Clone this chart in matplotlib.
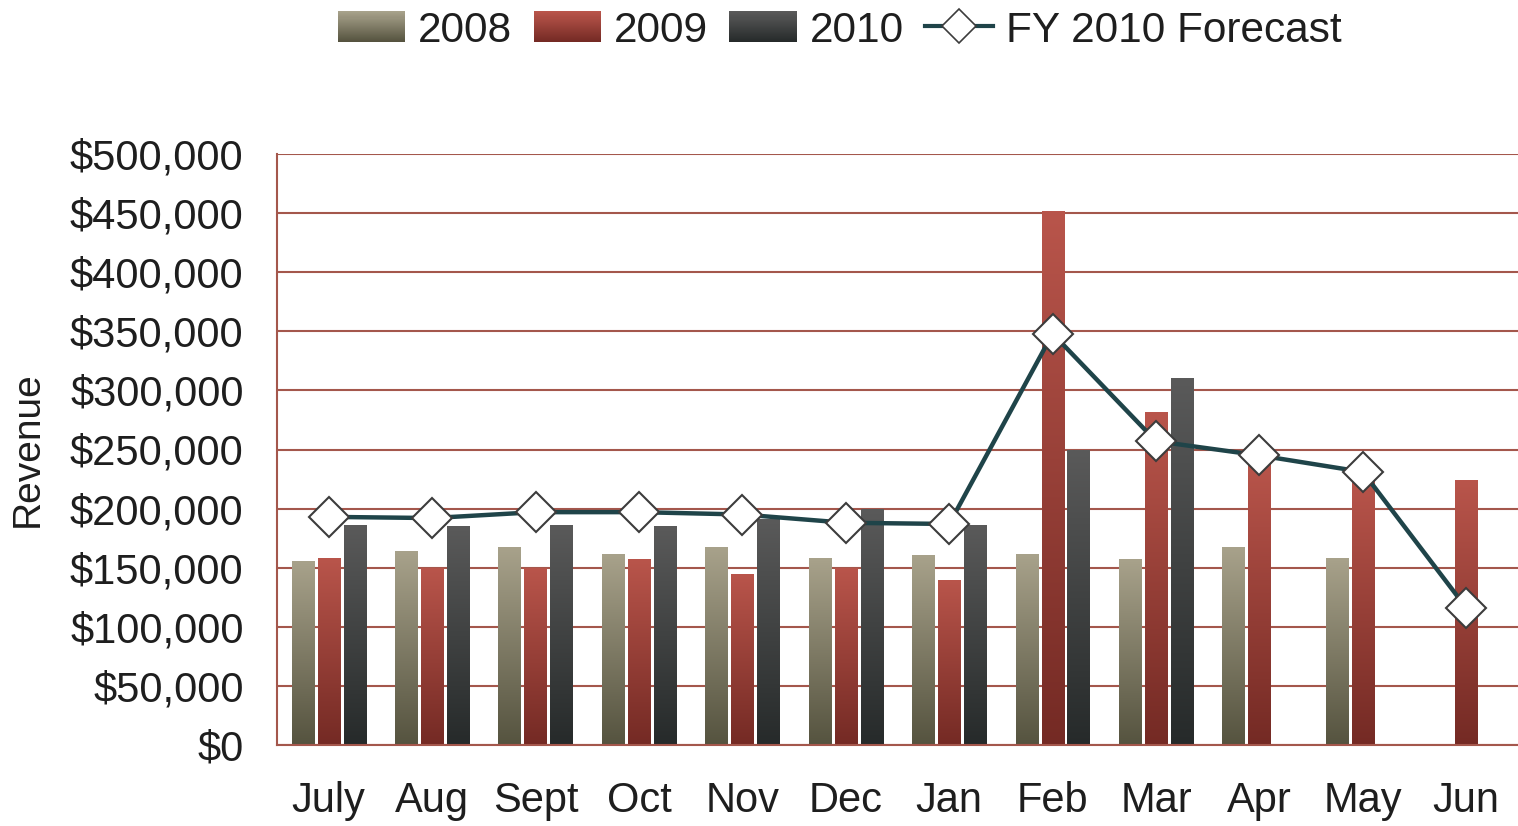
import numpy as np
import matplotlib

matplotlib.use("Agg")
import matplotlib.pyplot as plt
from matplotlib.colors import LinearSegmentedColormap
from matplotlib.legend_handler import HandlerBase
from matplotlib.lines import Line2D
from matplotlib.patches import Rectangle

months = ["July", "Aug", "Sept", "Oct", "Nov", "Dec",
          "Jan", "Feb", "Mar", "Apr", "May", "Jun"]
rev_2008 = [155000, 164000, 167000, 161000, 167000, 158000,
            160000, 161000, 157000, 167000, 158000, np.nan]
rev_2009 = [158000, 149000, 149000, 157000, 144000, 149000,
            139000, 451000, 281000, 240000, 226000, 224000]
rev_2010 = [186000, 185000, 186000, 185000, 191000, 199000,
            186000, 249000, 310000, np.nan, np.nan, np.nan]
forecast = [193000, 192000, 197000, 197000, 195000, 188000,
            187000, 348000, 257000, 245000, 231000, 116000]

series_names = ["2008", "2009", "2010"]
# bottom colour, top colour of the vertical gradient
gradients = {
    "2008": ("#55533f", "#a8a28b"),
    "2009": ("#742a24", "#b9554b"),
    "2010": ("#262a2a", "#5a5a5a"),
}
GRID = "#a4574c"
LINE = "#1f4449"
TEXT = "#1e1e1e"

plt.rcParams["font.family"] = ["Liberation Sans", "DejaVu Sans"]


class GradientHandler(HandlerBase):
    def __init__(self, bottom, top, n=30):
        super().__init__()
        self.cmap = LinearSegmentedColormap.from_list("g", [bottom, top])
        self.n = n

    def create_artists(self, legend, orig_handle, xdescent, ydescent,
                       width, height, fontsize, trans):
        arts = []
        h = height / self.n
        for k in range(self.n):
            r = Rectangle((-xdescent, -ydescent + k * h), width, h * 1.05,
                          facecolor=self.cmap(k / (self.n - 1)),
                          edgecolor="none", transform=trans)
            arts.append(r)
        return arts


fig = plt.figure(figsize=(15.18, 8.26), dpi=100)
ax = fig.add_axes([277 / 1518, 1 - 745 / 826, 1 - 277 / 1518, (745 - 154) / 826])

x = np.arange(len(months))
width = 0.215
step = 0.251
ramp = np.linspace(0, 1, 256).reshape(-1, 1)
for i, (name, vals) in enumerate(zip(series_names, [rev_2008, rev_2009, rev_2010])):
    cmap = LinearSegmentedColormap.from_list(name, gradients[name])
    xs = x + (i - 1) * step
    for xc, v in zip(xs, vals):
        if np.isnan(v):
            continue
        ax.bar(xc, v, width, color="none", zorder=2)
        ax.imshow(ramp, cmap=cmap, origin="lower", aspect="auto",
                  extent=[xc - width / 2, xc + width / 2, 0, v],
                  interpolation="bilinear", zorder=2)

ax.plot(x, forecast, color=LINE, lw=3.2, marker="D", ms=20,
        mfc="white", mec="#3c3c3c", mew=1.5, zorder=4)

ax.set_xlim(-0.5, 11.5)
ax.set_ylim(0, 500000)
ax.set_xticks(x)
ax.set_xticklabels(months)
ax.set_yticks(np.arange(0, 500001, 50000))
ax.set_yticklabels([f"${v:,.0f}" for v in np.arange(0, 500001, 50000)])
ax.tick_params(axis="both", length=0, labelsize=30, colors=TEXT)
ax.tick_params(axis="x", pad=26)
ax.tick_params(axis="y", pad=24)
ax.yaxis.grid(True, color=GRID, lw=1.5)
ax.set_axisbelow(True)
for s in ["top", "right"]:
    ax.spines[s].set_visible(False)
for s in ["left", "bottom"]:
    ax.spines[s].set_color(GRID)
    ax.spines[s].set_linewidth(1.5)
ax.set_ylabel("Revenue", fontsize=28, color=TEXT)
ax.yaxis.set_label_coords(-0.186, 0.5)

handles = [Rectangle((0, 0), 1, 1) for _ in series_names]
line_handle = Line2D([], [], color=LINE, lw=3, marker="D", ms=17,
                     mfc="white", mec="#3c3c3c", mew=1.2)
handler_map = {h: GradientHandler(*gradients[n]) for h, n in zip(handles, series_names)}
fig.legend(handles + [line_handle], series_names + ["FY 2010 Forecast"],
           handler_map=handler_map, loc="center", bbox_to_anchor=(0.553, 0.963),
           ncol=4, frameon=False, fontsize=30.5, handlelength=1.6,
           handleheight=0.75, handletextpad=0.3, columnspacing=0.5,
           labelcolor=TEXT)

fig.savefig("out.png", dpi=100, facecolor="white")
